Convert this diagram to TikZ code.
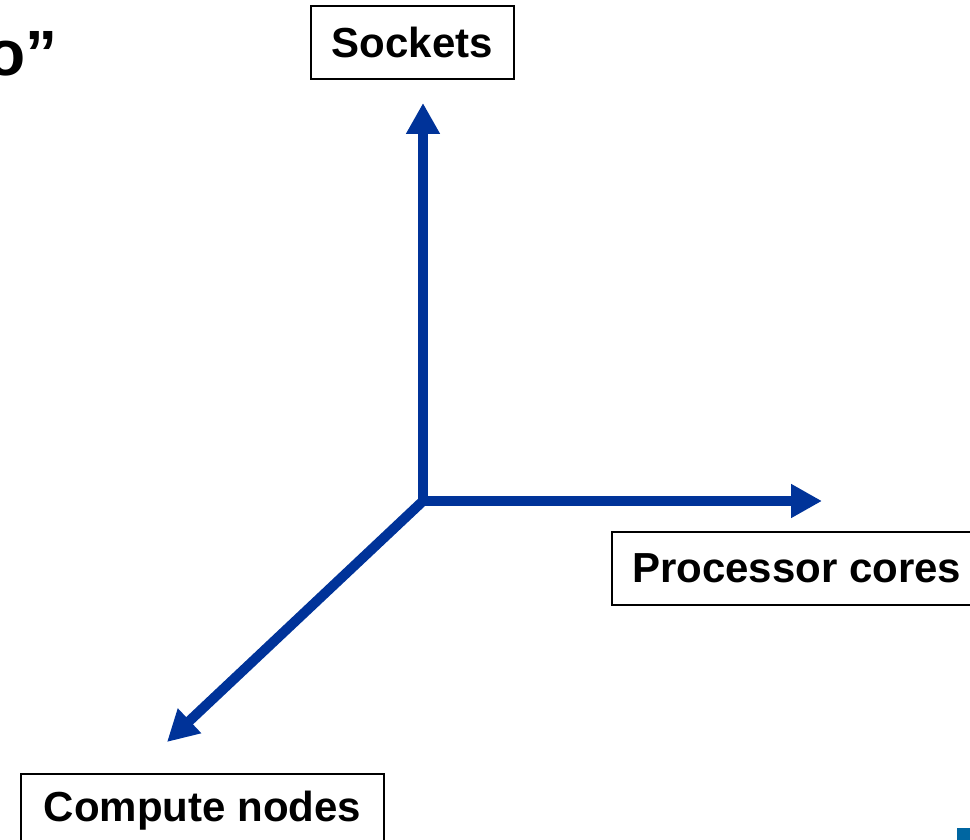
\documentclass[tikz,border=0pt]{standalone}
\usepackage{fontspec}
\setmainfont{Liberation Sans}
\usetikzlibrary{arrows.meta}
\definecolor{axisblue}{RGB}{0,51,153}
\definecolor{cornerblue}{RGB}{0,102,161}
\begin{document}
\begin{tikzpicture}[x=1pt,y=-1pt,
  labelbox/.style={draw=black, line width=2pt, fill=white, inner xsep=20pt, inner ysep=0pt,
    minimum height=73pt, font=\fontsize{42}{48}\selectfont\bfseries},
  axis/.style={draw=axisblue, line width=10pt, line cap=butt,
    -{Triangle[width=32pt,length=31pt]}}]
  \useasboundingbox (0,0) rectangle (970,840);

  % fragment of the slide title
  \node[anchor=base west, inner sep=0pt, font=\fontsize{64}{70}\selectfont\bfseries]
    (title) at (-14,76) {o”};

  % labels of the three dimensions
  \node[labelbox, minimum width=203pt] (sockets) at (412.5,42.5) {Sockets};
  \node[labelbox, anchor=north west] (cores) at (611,531) {Processor cores};
  \node[labelbox, anchor=north west, minimum width=363pt] (nodes) at (20,773) {Compute nodes};

  % axes
  \coordinate (origin) at (423,501);
  \coordinate (up) at (423,103);
  \coordinate (right) at (822,501);
  \coordinate (down) at (167,742);
  \draw[axis] (origin) -- (up);
  \draw[axis] (origin) -- (right);
  \draw[axis] (origin) -- (down);

  % corner mark of the slide
  \fill[cornerblue] (957,828) rectangle (980,850);
\end{tikzpicture}
\end{document}
